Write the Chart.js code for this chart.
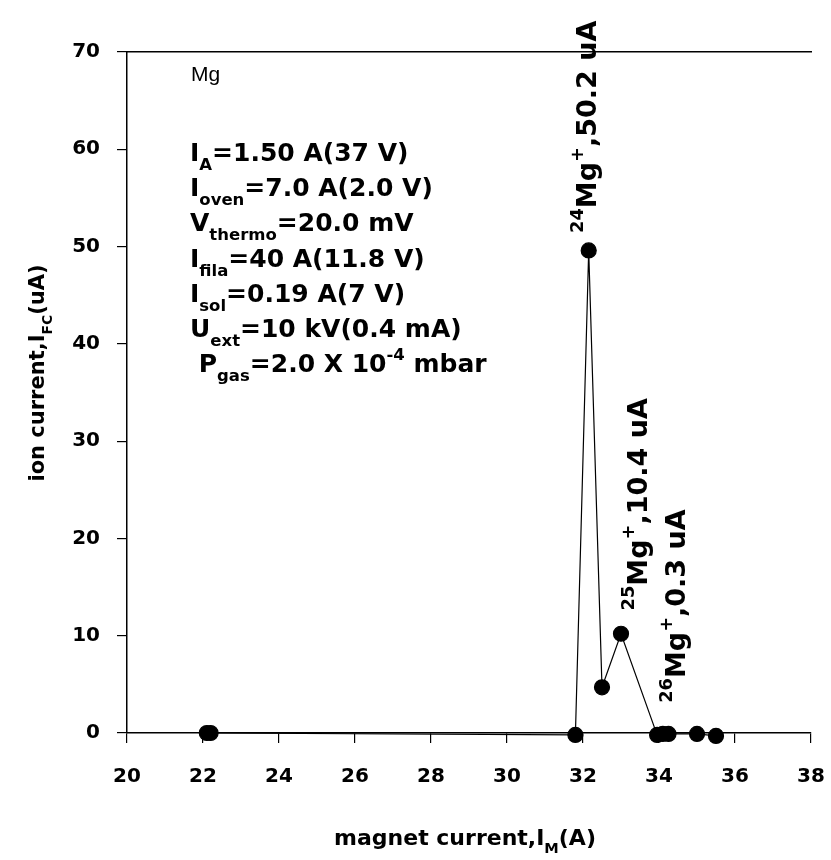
<!DOCTYPE html>
<html lang="en">
<head>
<meta charset="UTF-8">
<title>Mg ion current vs magnet current</title>
<script src="https://cdn.jsdelivr.net/npm/chart.js"></script>
<style>
  html, body { margin: 0; padding: 0; background: #fff; }
  #wrap { width: 831px; height: 860px; }
</style>
</head>
<body>
<div id="wrap"><canvas id="chart" width="831" height="860"></canvas></div>
<script>
  // measured points: magnet current (A) vs Faraday cup current (uA)
  const magnetCurrent = [22.1, 22.2, 31.8, 32.15, 32.5, 33.0, 33.95, 34.1, 34.25, 35.0, 35.5];
  const ionCurrent    = [0, 0, -0.2, 49.6, 4.7, 10.2, -0.2, -0.1, -0.1, -0.1, -0.3];

  // peak labels (isotope, value text, anchor in data units)
  const peakIsotope = ['24', '25', '26'];
  const peakValue   = [',50.2 uA', ',10.4 uA', ',0.3 uA'];
  const peakLabelX  = [32.08, 33.42, 34.42];
  const peakLabelY  = [51.4, 12.6, 3.1];

  // source settings block; '_' = subscript, '^' = superscript
  const element = 'Mg';
  const settings = [
    ['I', '_A', '=1.50 A(37 V)'],
    ['I', '_oven', '=7.0 A(2.0 V)'],
    ['V', '_thermo', '=20.0 mV'],
    ['I', '_fila', '=40 A(11.8 V)'],
    ['I', '_sol', '=0.19 A(7 V)'],
    ['U', '_ext', '=10 kV(0.4 mA)'],
    [' P', '_gas', '=2.0 X 10', '^-4', ' mbar']
  ];
  const xTitle = ['magnet current,I', '_M', '(A)'];
  const yTitle = ['ion current,I', '_FC', '(uA)'];

  const FONT = '"DejaVu Sans", "Liberation Sans", sans-serif';

  function partStyle(p, size) {
    if (p[0] === '_') return { txt: p.slice(1), s: size * 0.66, dy: size * 0.36 };
    if (p[0] === '^') return { txt: p.slice(1), s: size * 0.66, dy: -size * 0.48 };
    return { txt: p, s: size, dy: 0 };
  }
  function drawRich(ctx, x, y, parts, size) {
    parts.forEach(p => {
      const st = partStyle(p, size);
      ctx.font = 'bold ' + st.s + 'px ' + FONT;
      ctx.fillText(st.txt, x, y + st.dy);
      x += ctx.measureText(st.txt).width;
    });
    return x;
  }
  function richWidth(ctx, parts, size) {
    let w = 0;
    parts.forEach(p => {
      const st = partStyle(p, size);
      ctx.font = 'bold ' + st.s + 'px ' + FONT;
      w += ctx.measureText(st.txt).width;
    });
    return w;
  }

  const annotations = {
    id: 'annotations',
    afterDraw(chart) {
      const ctx = chart.ctx, area = chart.chartArea;
      const xs = chart.scales.x, ys = chart.scales.y;
      ctx.save();
      ctx.fillStyle = '#000';
      ctx.textBaseline = 'alphabetic';
      ctx.textAlign = 'left';

      // settings block
      ctx.font = '21px "Liberation Sans Narrow", "Liberation Sans", sans-serif';
      ctx.fillText(element, area.left + 64, 81);
      settings.forEach((line, i) => {
        drawRich(ctx, area.left + 63, 161 + i * 35.2, line, 25);
      });

      // peak labels, rotated
      peakIsotope.forEach((iso, i) => {
        ctx.save();
        ctx.translate(xs.getPixelForValue(peakLabelX[i]), ys.getPixelForValue(peakLabelY[i]));
        ctx.rotate(-Math.PI / 2);
        drawRich(ctx, 0, 10, ['^' + iso, 'Mg', '^+', peakValue[i]], 27);
        ctx.restore();
      });

      // axis titles
      const xw = richWidth(ctx, xTitle, 22);
      drawRich(ctx, 465 - xw / 2, 845, xTitle, 22);
      const yw = richWidth(ctx, yTitle, 21);
      ctx.save();
      ctx.translate(44, 373 + yw / 2);
      ctx.rotate(-Math.PI / 2);
      drawRich(ctx, 0, 0, yTitle, 21);
      ctx.restore();
      ctx.restore();
    }
  };

  const tickFont = { family: FONT, size: 20, weight: 'bold' };

  new Chart(document.getElementById('chart'), {
    type: 'scatter',
    data: {
      datasets: [{
        data: magnetCurrent.map((x, i) => ({ x, y: ionCurrent[i] })),
        showLine: true,
        borderColor: '#000',
        borderWidth: 1.2,
        backgroundColor: '#000',
        pointRadius: 7.5,
        pointHoverRadius: 7.5,
        clip: false
      }]
    },
    options: {
      responsive: false,
      animation: false,
      layout: { padding: { top: 52, right: 20, left: 0, bottom: 0 } },
      plugins: { legend: { display: false }, tooltip: { enabled: false } },
      scales: {
        x: {
          type: 'linear',
          min: 20, max: 38,
          ticks: { stepSize: 2, color: '#000', font: tickFont, padding: 22 },
          grid: { drawOnChartArea: false, drawTicks: true, tickLength: 10, color: '#000', lineWidth: 1.2 },
          border: { color: '#000', width: 1.5 },
          afterFit(s) { s.height = 127; s.paddingLeft = 0; s.paddingRight = 0; }
        },
        x2: {
          type: 'linear',
          position: 'top',
          min: 20, max: 38,
          ticks: { display: false },
          grid: { display: false },
          border: { color: '#000', width: 1.5 },
          afterFit(s) { s.height = 0; s.paddingLeft = 0; s.paddingRight = 0; }
        },
        y: {
          min: 0, max: 70,
          ticks: { stepSize: 10, color: '#000', font: tickFont, padding: 17 },
          grid: { drawOnChartArea: false, drawTicks: true, tickLength: 10, color: '#000', lineWidth: 1.2 },
          border: { color: '#000', width: 1.5 },
          afterFit(s) { s.width = 127; s.paddingTop = 0; s.paddingBottom = 0; }
        }
      }
    },
    plugins: [annotations]
  });
</script>
</body>
</html>
